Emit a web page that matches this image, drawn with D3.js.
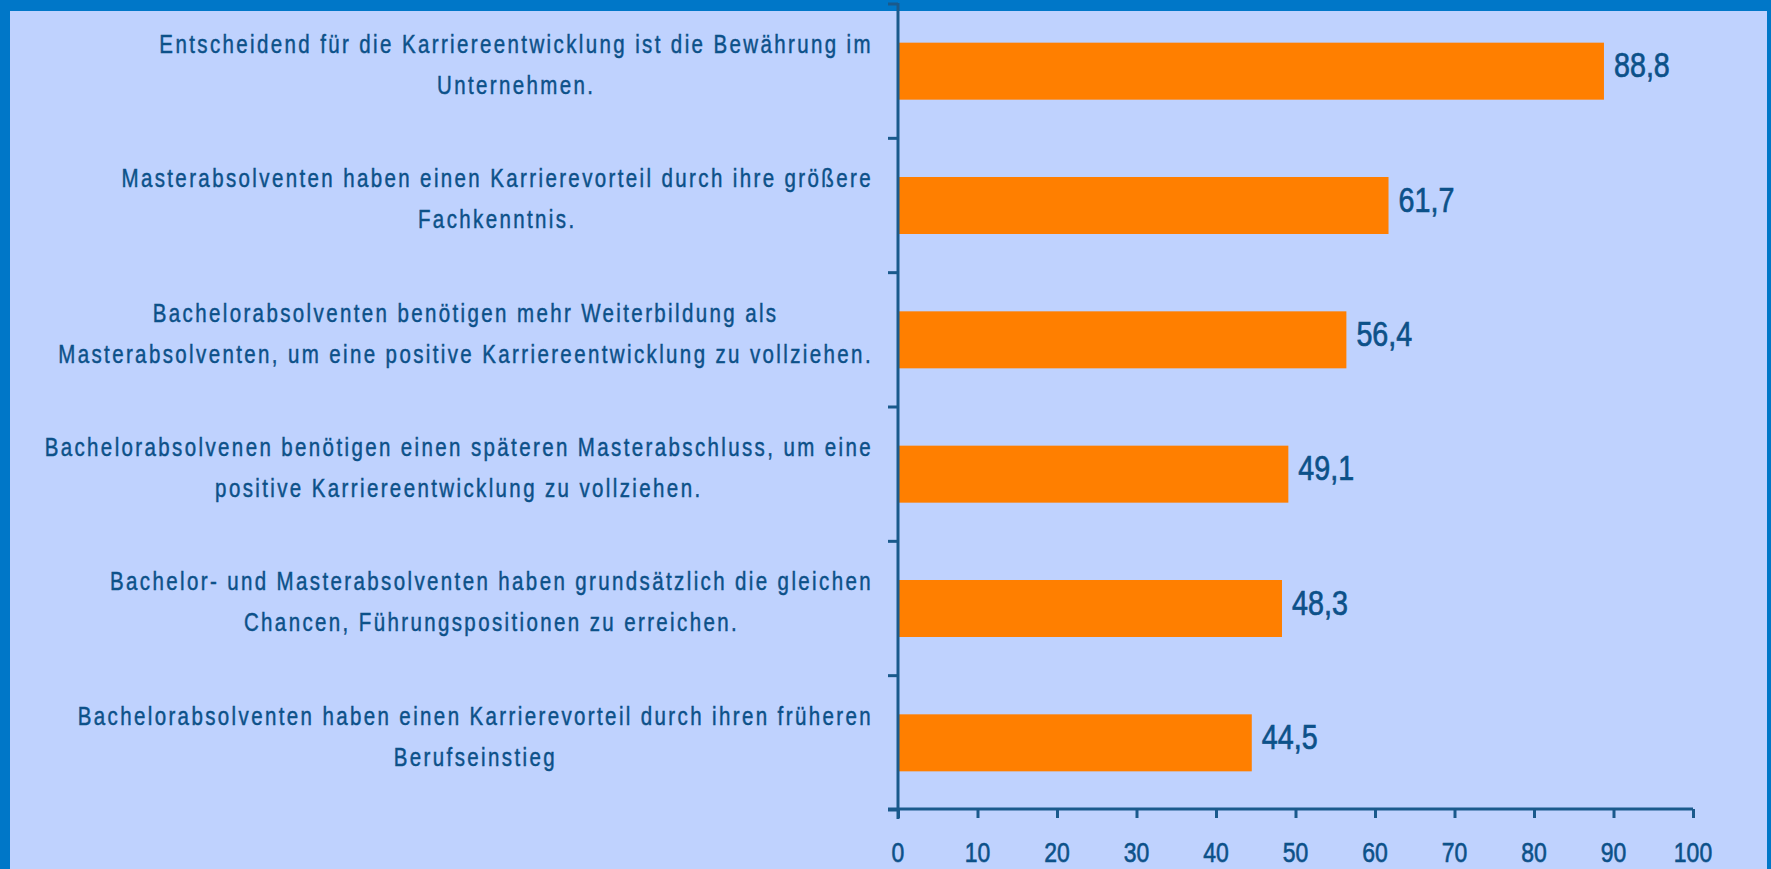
<!DOCTYPE html>
<html>
<head>
<meta charset="utf-8">
<title>Karriereentwicklung</title>
<script src="https://cdn.jsdelivr.net/npm/d3@7/dist/d3.min.js"></script>
<style>
  html, body { margin: 0; padding: 0; overflow: hidden; }
  svg { display: block; }
  text { font-family: "Liberation Sans", Arial, sans-serif; fill: #0c5189; stroke: #0c5189; }
  .cat { font-size: 25px; letter-spacing: 2.9px; stroke-width: 0.45px; }
  .val { font-size: 35px; stroke-width: 0.7px; }
  .tick-label { font-size: 28px; stroke-width: 0.6px; }
  .axis line, .axis path { stroke: #1a5a8c; stroke-width: 3px; fill: none; }
</style>
</head>
<body>
<svg id="svg"></svg>
<script>
// statements, each one split into its two printed lines
var categories = [
  ["Entscheidend für die Karriereentwicklung ist die Bewährung im", "Unternehmen."],
  ["Masterabsolventen haben einen Karrierevorteil durch ihre größere", "Fachkenntnis."],
  ["Bachelorabsolventen benötigen mehr Weiterbildung als", "Masterabsolventen, um eine positive Karriereentwicklung zu vollziehen."],
  ["Bachelorabsolvenen benötigen einen späteren Masterabschluss, um eine", "positive Karriereentwicklung zu vollziehen."],
  ["Bachelor- und Masterabsolventen haben grundsätzlich die gleichen", "Chancen, Führungspositionen zu erreichen."],
  ["Bachelorabsolventen haben einen Karrierevorteil durch ihren früheren", "Berufseinstieg"]
];
var values = [88.8, 61.7, 56.4, 49.1, 48.3, 44.5];
var ticks = [0, 10, 20, 30, 40, 50, 60, 70, 80, 90, 100];

var width = 1771, height = 869;
// no narrow font installed, so squeeze Liberation Sans like Arial Narrow
var narrow = 0.82;

var svg = d3.select("svg")
  .attr("width", width)
  .attr("height", height);

// blue frame, light panel inside
svg.append("rect").attr("width", width).attr("height", height).attr("fill", "#0077c8");
svg.append("rect")
  .attr("x", 10).attr("y", 11)
  .attr("width", 1757).attr("height", height)
  .attr("fill", "#bfd2fe");

var x = d3.scaleLinear().domain([0, 100]).range([898, 1693]);
var y = d3.scaleBand().domain(d3.range(values.length)).range([4, 810]);
var barH = 57;

// bars
svg.selectAll(".bar")
  .data(values)
  .enter()
  .append("rect")
  .attr("class", "bar")
  .attr("x", x(0) + 1)
  .attr("y", function(d, i) { return y(i) + y.bandwidth() / 2 - barH / 2; })
  .attr("width", function(d) { return x(d) - x(0) - 1; })
  .attr("height", barH)
  .attr("fill", "#ff7f00");

// value labels
svg.selectAll(".val")
  .data(values)
  .enter()
  .append("text")
  .attr("class", "val")
  .attr("transform", function(d, i) {
    return "translate(" + (x(d) + 10) + "," + (y(i) + y.bandwidth() / 2 + 6) + ") scale(" + narrow + ",1)";
  })
  .text(function(d) { return d.toFixed(1).replace(".", ","); });

// category labels: lines centred on each other, block right edge at 873
var labelRight = 873;
categories.forEach(function(lines, i) {
  var cy = y(i) + y.bandwidth() / 2;
  var g = svg.append("g");
  var texts = g.selectAll("text")
    .data(lines)
    .enter()
    .append("text")
    .attr("class", "cat")
    .attr("text-anchor", "middle")
    .attr("y", function(d, j) { return cy - 18 + j * 41; })
    .text(function(d) { return d; });
  var w = d3.max(texts.nodes(), function(n) { return n.getComputedTextLength(); }) * narrow;
  g.attr("transform", "translate(" + (labelRight - w / 2) + ",0) scale(" + narrow + ",1)");
});

// x axis
var xAxis = d3.axisBottom(x).tickValues(ticks).tickSize(9).tickSizeOuter(0).tickFormat("");
var xAxisG = svg.append("g")
  .attr("class", "axis")
  .attr("transform", "translate(0,809)")
  .call(xAxis);
xAxisG.select(".domain").attr("d", "M" + (x(0) - 10) + ",0H" + x(100));

svg.selectAll(".tick-label")
  .data(ticks)
  .enter()
  .append("text")
  .attr("class", "tick-label")
  .attr("text-anchor", "middle")
  .attr("transform", function(d) { return "translate(" + x(d) + ",862) scale(" + narrow + ",1)"; })
  .text(function(d) { return d; });

// y axis with category separators
var sep = d3.range(values.length + 1).map(function(i) { return 4 + i * y.step(); });
var yAxisG = svg.append("g").attr("class", "axis");
yAxisG.append("line")
  .attr("x1", x(0)).attr("x2", x(0))
  .attr("y1", 3).attr("y2", 819);
yAxisG.selectAll(".sep")
  .data(sep)
  .enter()
  .append("line")
  .attr("x1", x(0) - 10).attr("x2", x(0))
  .attr("y1", function(d) { return d; })
  .attr("y2", function(d) { return d; });
</script>
</body>
</html>
